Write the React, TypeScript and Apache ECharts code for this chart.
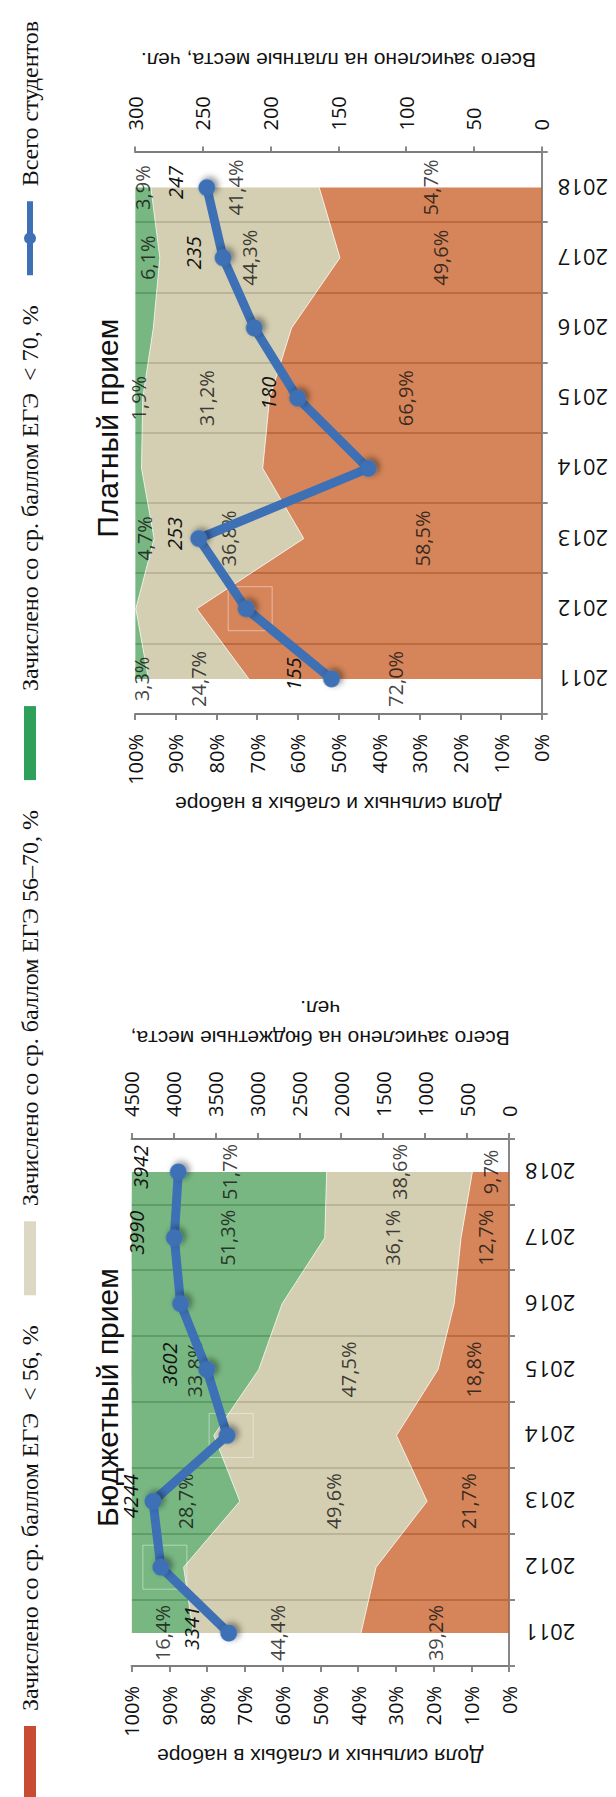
import React, { useEffect, useRef } from 'react';
import * as echarts from 'echarts';

// ---------- data ----------
const years = ['2011', '2012', '2013', '2014', '2015', '2016', '2017', '2018'];
const labeledYears = ['2011', '2013', '2015', '2017', '2018'];

const seriesNames = [
  'Зачислено со ср. баллом ЕГЭ  < 56, %',
  'Зачислено со ср. баллом ЕГЭ 56–70, %',
  'Зачислено со ср. баллом ЕГЭ  < 70, %',
  'Всего студентов',
];

// Бюджетный прием
const budgetLow = [39.2, 35.2, 21.7, 29.8, 18.8, 14.5, 12.7, 9.7];
const budgetMid = [44.4, 51.0, 49.6, 48.4, 47.5, 45.6, 36.1, 38.6];
const budgetHigh = [16.4, 13.8, 28.7, 21.8, 33.8, 39.9, 51.3, 51.7];
const budgetTotal = [3341, 4150, 4244, 3360, 3602, 3915, 3990, 3942];

// Платный прием
const paidLow = [72.0, 84.8, 58.5, 68.6, 66.9, 61.5, 49.6, 54.7];
const paidMid = [24.7, 15.0, 36.8, 29.8, 31.2, 34.0, 44.3, 41.4];
const paidHigh = [3.3, 0.2, 4.7, 1.6, 1.9, 4.5, 6.1, 3.9];
const paidTotal = [155, 218, 253, 128, 180, 212, 235, 247];

// axis ranges
const pctMax = 100;
const pctStep = 10;
const budgetCountMax = 4500;
const budgetCountStep = 500;
const paidCountMax = 300;
const paidCountStep = 50;

// highlighted (boxed) years
const budgetBoxedYears = ['2012', '2014'];
const paidBoxedYears = ['2012'];

// ---------- styles ----------
const W = 1797;
const H = 616;
const AX = '#878787';
const SANS = 'Open Sans';
const legendColors = ['#C84C32', '#DDD8C4', '#2EA05A', '#3D70B4'];
const areaColors = ['#C65B1F', '#C5BD97', '#499E57'];
const lineColor = '#3D70B4';
const lineLegendIcon = 'path://M0,3L74,3L74,9L0,9Z M31,6A6,6,0,1,1,43,6A6,6,0,1,1,31,6Z';

const fmtPct = (v: number) => v.toFixed(1).replace('.', ',') + '%';

function catAxis(gridIndex: number) {
  return {
    type: 'category',
    gridIndex,
    data: years,
    boundaryGap: true,
    axisLine: { lineStyle: { color: AX, width: 2 } },
    axisTick: { show: true, length: 6, interval: 0, lineStyle: { color: AX, width: 2 } },
    axisLabel: { rotate: 90, fontSize: 22, color: '#111', margin: 16, fontFamily: SANS, interval: 0 },
    splitLine: { show: true, interval: 0, lineStyle: { color: '#7a7a7a', width: 1.5 } },
    z: 1,
  };
}

function pctAxis(gridIndex: number, nameGap: number) {
  return {
    type: 'value',
    gridIndex,
    position: 'left',
    min: 0,
    max: pctMax,
    interval: pctStep,
    axisLine: { show: true, lineStyle: { color: AX, width: 2 } },
    axisTick: { show: true, length: 6, lineStyle: { color: AX, width: 2 } },
    axisLabel: { formatter: (v: number) => v + '%', fontSize: 20, color: '#111', margin: 20, fontFamily: SANS },
    splitLine: { show: false },
    name: 'Доля сильных и слабых в наборе',
    nameLocation: 'middle',
    nameRotate: 90,
    nameGap,
    nameTextStyle: { fontSize: 21, fontFamily: 'Liberation Sans', color: '#111' },
  };
}

function countAxis(gridIndex: number, max: number, step: number, name: string, nameGap: number) {
  return {
    type: 'value',
    gridIndex,
    position: 'right',
    min: 0,
    max,
    interval: step,
    axisLine: { show: true, lineStyle: { color: AX, width: 2 } },
    axisTick: { show: true, length: 6, lineStyle: { color: AX, width: 2 } },
    axisLabel: { formatter: (v: number) => String(v), fontSize: 20, color: '#111', margin: 22, fontFamily: SANS },
    splitLine: { show: false },
    name,
    nameLocation: 'middle',
    nameRotate: 90,
    nameGap,
    nameTextStyle: { fontSize: 21, fontFamily: 'Liberation Sans', color: '#111', lineHeight: 30 },
  };
}

function bandLabelData(low: number[], mid: number[], high: number[]) {
  const out: any[] = [];
  years.forEach((y, i) => {
    if (!labeledYears.includes(y)) return;
    let base = 0;
    [low[i], mid[i], high[i]].forEach((v) => {
      out.push([y, base + v / 2, v]);
      base += v;
    });
  });
  return out;
}

function buildSeries(
  gridIdx: number,
  pctIdx: number,
  cntIdx: number,
  low: number[],
  mid: number[],
  high: number[],
  total: number[],
  labelDistance: number,
  labelNudge: number[],
  boxed: string[]
) {
  const areas = [low, mid, high].map((arr, k) => ({
    type: 'line',
    name: seriesNames[k],
    xAxisIndex: gridIdx,
    yAxisIndex: pctIdx,
    stack: 'share' + gridIdx,
    data: arr,
    symbol: 'none',
    lineStyle: { color: 'rgba(255,255,255,0.7)', width: 1 },
    itemStyle: { color: legendColors[k] },
    areaStyle: { color: areaColors[k], opacity: 0.74 },
    silent: true,
    z: 2,
  }));
  const bandLabels = {
    type: 'scatter',
    name: 'bandLabels' + gridIdx,
    xAxisIndex: gridIdx,
    yAxisIndex: pctIdx,
    data: bandLabelData(low, mid, high),
    symbolSize: 1,
    itemStyle: { color: 'rgba(0,0,0,0)' },
    label: {
      show: true,
      position: 'inside',
      formatter: (p: any) => fmtPct(p.value[2]),
      fontSize: 20,
      color: '#111',
      fontFamily: SANS,
    },
    silent: true,
    z: 3,
  };
  const line = {
    type: 'line',
    name: seriesNames[3],
    xAxisIndex: gridIdx,
    yAxisIndex: cntIdx,
    data: total.map((v, i) => ({
      value: v,
      label: { show: labeledYears.includes(years[i]), offset: [5, labelNudge[i]] },
    })),
    symbol: 'circle',
    symbolSize: 17,
    lineStyle: { color: lineColor, width: 9 },
    itemStyle: {
      color: lineColor,
      shadowBlur: 6,
      shadowColor: 'rgba(0,0,0,0.45)',
      shadowOffsetX: 2,
      shadowOffsetY: 3,
    },
    label: {
      position: 'top',
      distance: labelDistance,
      fontSize: 20,
      fontStyle: 'italic',
      color: '#111',
      fontFamily: SANS,
      formatter: (p: any) => String(p.value),
    },
    silent: true,
    z: 4,
  };
  const boxes = {
    type: 'scatter',
    name: 'boxes' + gridIdx,
    xAxisIndex: gridIdx,
    yAxisIndex: cntIdx,
    data: boxed.map((y) => [y, total[years.indexOf(y)]]),
    symbol: 'rect',
    symbolSize: 44,
    symbolOffset: [0, 4],
    itemStyle: { color: 'rgba(0,0,0,0)', borderColor: 'rgba(255,255,255,0.55)', borderWidth: 1 },
    silent: true,
    z: 3,
  };
  return [...areas, bandLabels, boxes, line];
}

const budgetGrid = { left: 131, top: 131.5, width: 527, height: 377.5 };
const paidGrid = { left: 1083, top: 135, width: 561.5, height: 406.7 };

const titleStyle = { fontFamily: 'Liberation Sans', fontSize: 30, fontWeight: 'normal', color: '#111' };

const option: any = {
  animation: false,
  backgroundColor: '#fff',
  textStyle: { fontFamily: SANS },
  title: [
    {
      text: 'Бюджетный прием',
      left: budgetGrid.left + budgetGrid.width / 2,
      textAlign: 'center',
      top: 87,
      textStyle: titleStyle,
    },
    {
      text: 'Платный прием',
      left: paidGrid.left + paidGrid.width / 2,
      textAlign: 'center',
      top: 87,
      textStyle: titleStyle,
    },
  ],
  legend: {
    left: -8,
    top: 13,
    width: 2400,
    orient: 'horizontal',
    itemWidth: 74,
    itemHeight: 12,
    itemGap: 30,
    selectedMode: false,
    textStyle: { fontFamily: 'Liberation Serif', fontSize: 24, color: '#111', padding: [0, 0, 0, 10] },
    data: [
      { name: seriesNames[0], icon: 'rect', itemStyle: { color: legendColors[0] } },
      { name: seriesNames[1], icon: 'rect', itemStyle: { color: legendColors[1] } },
      { name: seriesNames[2], icon: 'rect', itemStyle: { color: legendColors[2] } },
      { name: seriesNames[3], icon: lineLegendIcon, itemStyle: { color: legendColors[3] } },
    ],
  },
  grid: [budgetGrid, paidGrid],
  xAxis: [catAxis(0), catAxis(1)],
  yAxis: [
    pctAxis(0, 80),
    countAxis(0, budgetCountMax, budgetCountStep, 'Всего зачислено на бюджетные места,\nчел.', 86),
    pctAxis(1, 80),
    countAxis(1, paidCountMax, paidCountStep, 'Всего зачислено на платные места, чел.', 77),
  ],
  series: [
    ...buildSeries(0, 0, 1, budgetLow, budgetMid, budgetHigh, budgetTotal, 19, [0, 0, 15, 0, 0, 0, 0, 0], budgetBoxedYears),
    ...buildSeries(1, 2, 3, paidLow, paidMid, paidHigh, paidTotal, 11, [-9, 0, 5, 0, 0, 0, 0, -2], paidBoxedYears),
  ],
};

export default function App() {
  const ref = useRef<HTMLDivElement>(null);
  useEffect(() => {
    if (!ref.current) return;
    const chart = echarts.init(ref.current, null, { renderer: 'svg', width: W, height: H });
    chart.setOption(option);
    return () => chart.dispose();
  }, []);
  return (
    <div
      style={{
        position: 'absolute',
        left: 0,
        top: 0,
        width: H,
        height: W,
        overflow: 'hidden',
        background: '#fff',
      }}
    >
      <div
        ref={ref}
        style={{
          position: 'absolute',
          left: 0,
          top: 0,
          width: W,
          height: H,
          transformOrigin: '0 0',
          transform: `translateY(${W}px) rotate(-90deg)`,
        }}
      />
    </div>
  );
}
